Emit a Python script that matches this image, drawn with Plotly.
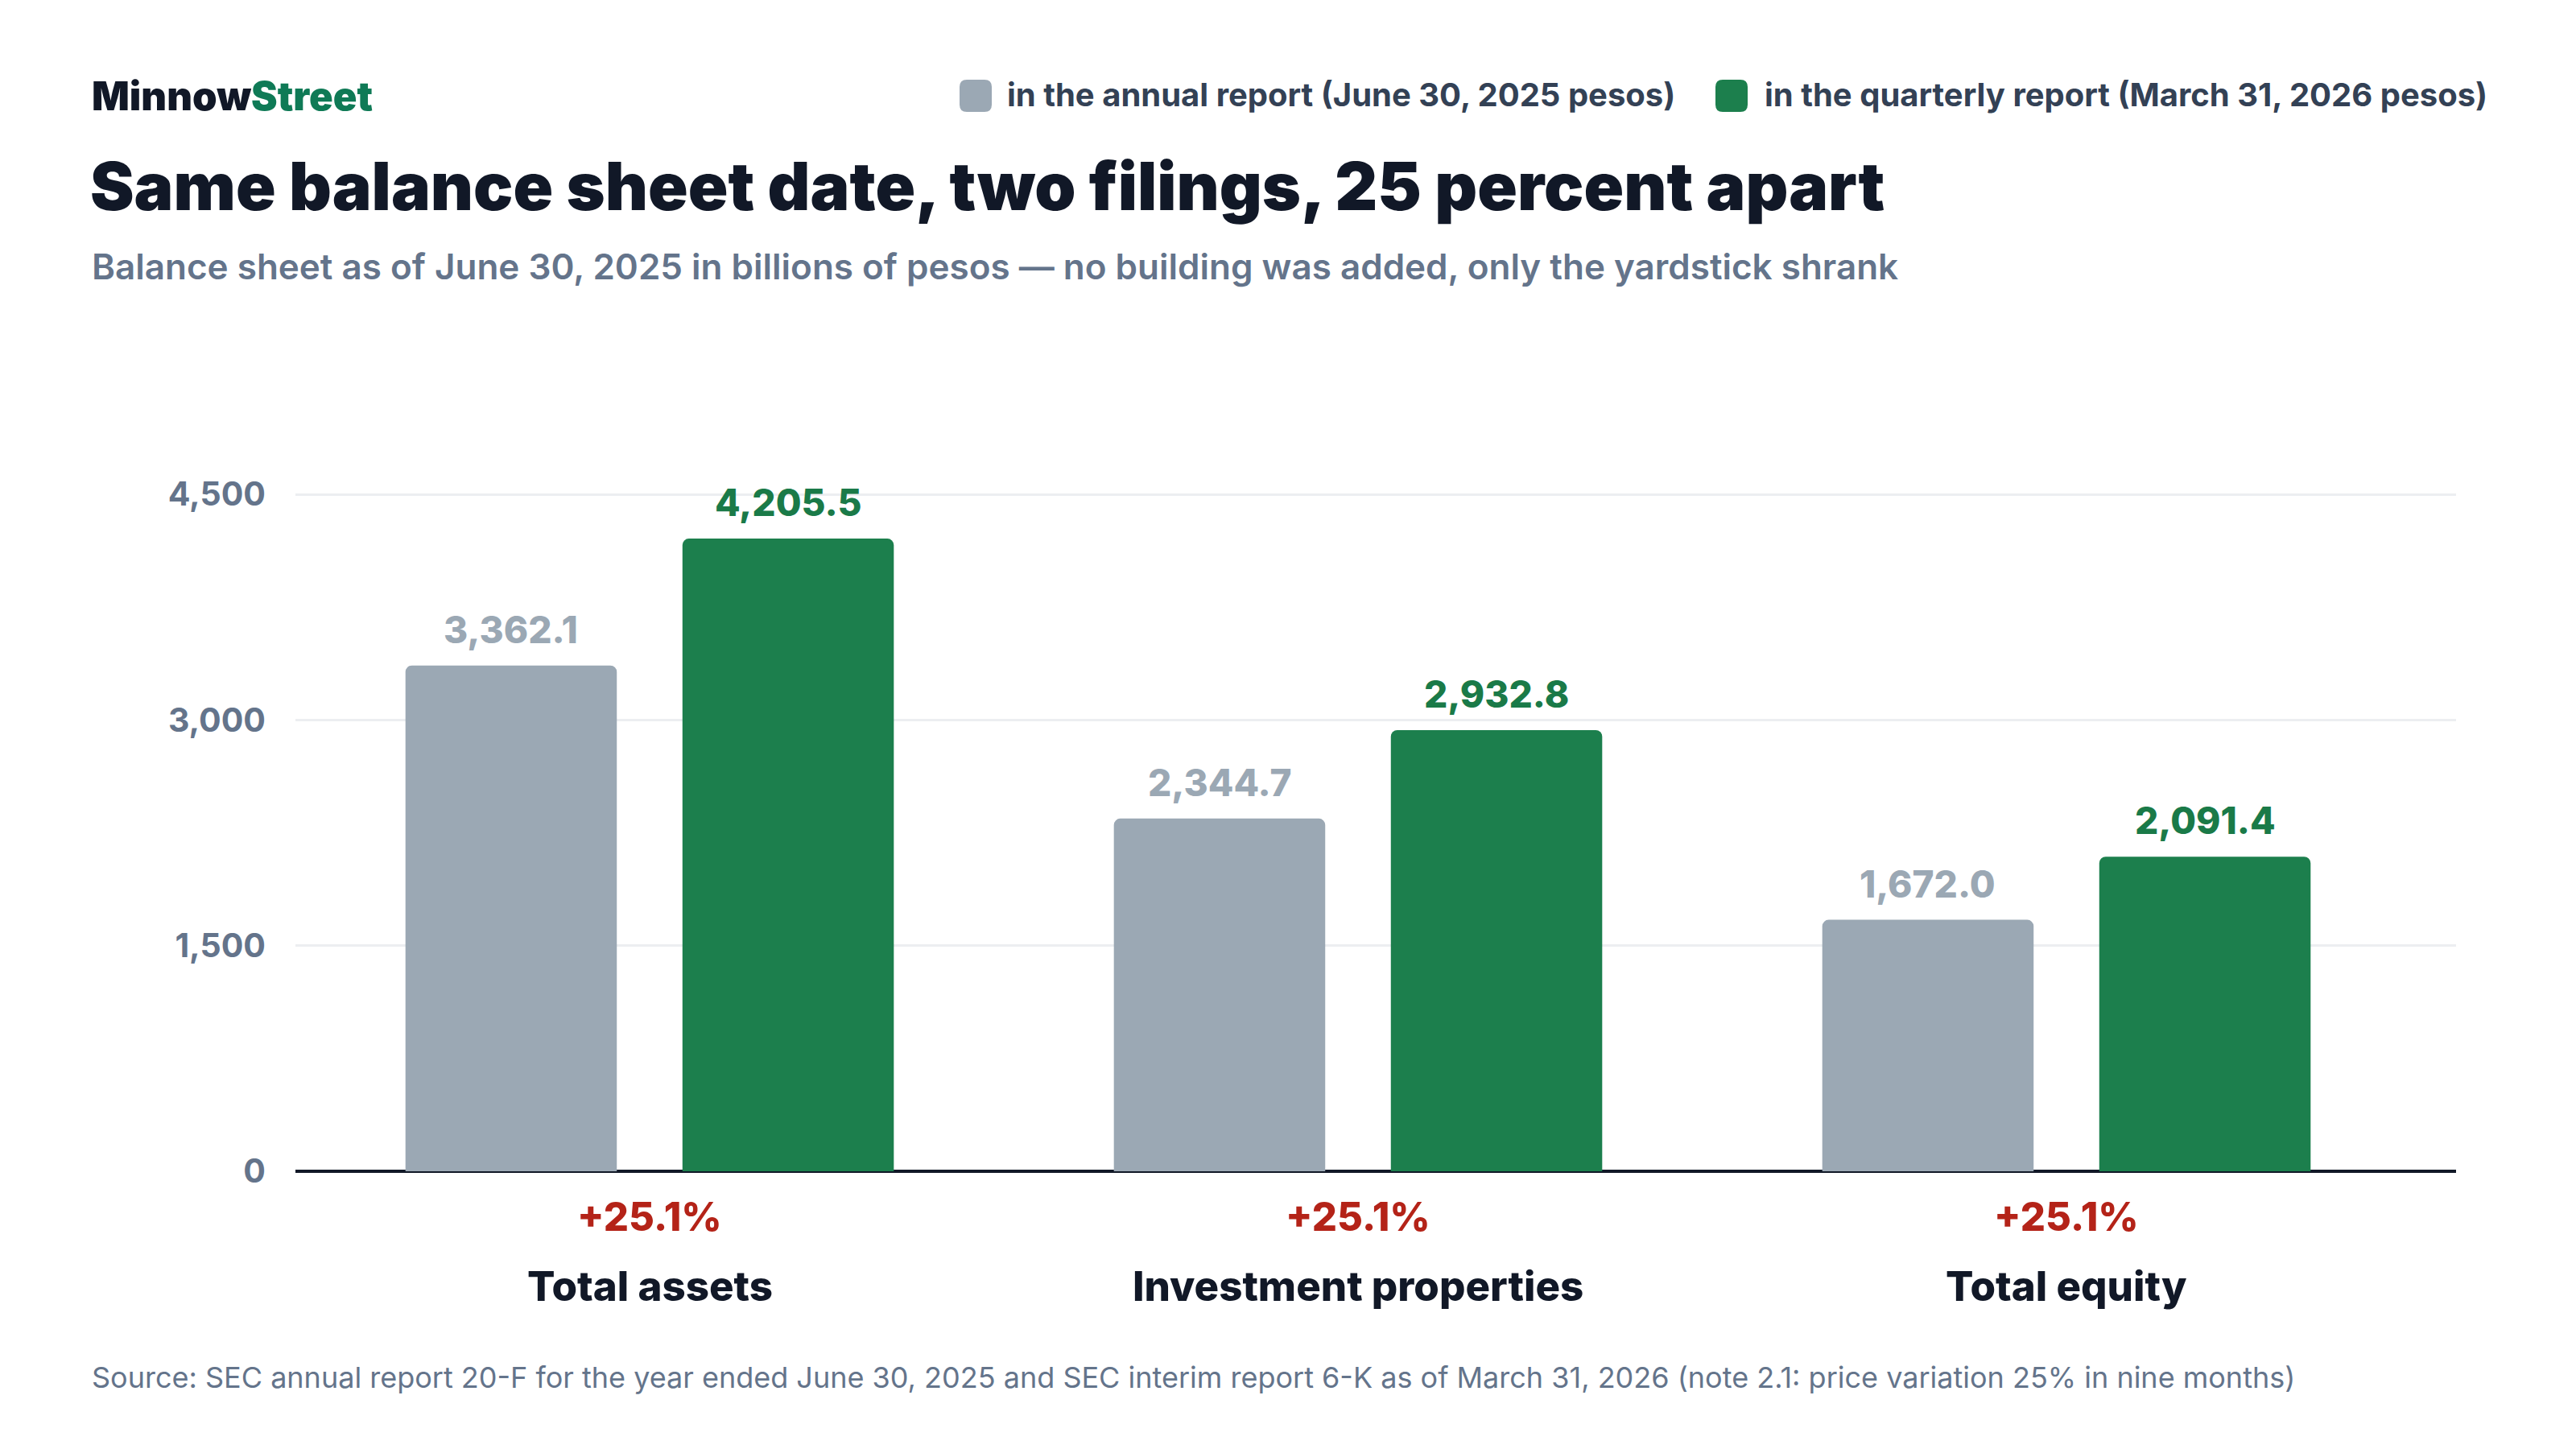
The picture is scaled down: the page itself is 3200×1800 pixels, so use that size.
import plotly.graph_objects as go

# ---------------- data ----------------
categories = ["Total assets", "Investment properties", "Total equity"]
annual_values = [3362.1, 2344.7, 1672.0]
quarterly_values = [4205.5, 2932.8, 2091.4]
series_names = ["in the annual report (June 30, 2025 pesos)",
                "in the quarterly report (March 31, 2026 pesos)"]
y_tick_values = [0, 1500, 3000, 4500]
y_tick_labels = ["0", "1,500", "3,000", "4,500"]

title_text = "Same balance sheet date, two filings, 25 percent apart"
subtitle_text = ("Balance sheet as of June 30, 2025 in billions of pesos \u2014 "
                 "no building was added, only the yardstick shrank")
source_text = ("Source: SEC annual report 20-F for the year ended June 30, 2025 and "
               "SEC interim report 6-K as of March 31, 2026 (note 2.1: price variation 25% in nine months)")

# ---------------- style ----------------
OFF = 8  # page body margin
W, H = 3200 - 2 * OFF, 1800 - 2 * OFF
L = 367 - OFF
R = W - (3051 - OFF)
T = 558 - OFF
B = H - (1455 - OFF)
PW, PH = W - L - R, H - T - B
X_RANGE = [-0.5, 2.55]
Y_RANGE = [0, 4800]
BARGAP = 0.218
GROUPGAP = 0.237

GRAY = "#9ba8b4"
GREEN = "#1c7f4d"
GRAY_TXT = "#9ba8b4"
GREEN_TXT = "#1a7a48"
RED = "#b42318"
DARK = "#111827"
MUTED = "#64748b"
TICK = "#64748b"
LEG_TXT = "#334155"
FONT = "Inter"


def px_x(xp):
    # xp: target pixel in the browser window
    return (xp - OFF - L) / PW


def px_y(yp):
    return (H - B - (yp - OFF)) / PH


fig = go.Figure()
fig.add_trace(go.Bar(x=categories, y=annual_values, name=series_names[0],
                     marker=dict(color=GRAY, line=dict(width=0)), showlegend=False,
                     hoverinfo="skip"))
fig.add_trace(go.Bar(x=categories, y=quarterly_values, name=series_names[1],
                     marker=dict(color=GREEN, line=dict(width=0)), showlegend=False,
                     hoverinfo="skip"))

annotations = []
slot_px = PW / (X_RANGE[1] - X_RANGE[0]) * (1 - BARGAP) / 2
for cat, a, q in zip(categories, annual_values, quarterly_values):
    annotations.append(dict(x=cat, y=a, xref="x", yref="y", text=f"{a:,.1f}",
                            showarrow=False, xshift=-slot_px / 2, yshift=45,
                            yanchor="middle",
                            font=dict(family=FONT, size=46, color=GRAY_TXT, weight=800)))
    annotations.append(dict(x=cat, y=q, xref="x", yref="y", text=f"{q:,.1f}",
                            showarrow=False, xshift=slot_px / 2, yshift=45,
                            yanchor="middle",
                            font=dict(family=FONT, size=46, color=GREEN_TXT, weight=800)))
    pct = (q / a - 1) * 100
    annotations.append(dict(x=cat, y=px_y(1511), xref="x", yref="paper",
                            text=f"+{pct:.1f}%", showarrow=False, yanchor="middle",
                            font=dict(family=FONT, size=49, color=RED, weight=800)))
    annotations.append(dict(x=cat, y=px_y(1597), xref="x", yref="paper",
                            text=cat, showarrow=False, yanchor="middle",
                            font=dict(family=FONT, size=51, color=DARK, weight=800)))

# logo
annotations.append(dict(x=px_x(112), y=px_y(119), xref="paper", yref="paper",
                        xanchor="left", yanchor="middle", showarrow=False,
                        text=f"<span style='color:{DARK}'>Minnow</span><span style='color:#0f7a56'>Street</span>",
                        font=dict(family=FONT, size=49, weight=900)))
# title
annotations.append(dict(x=px_x(110), y=px_y(231), xref="paper", yref="paper",
                        xanchor="left", yanchor="middle", showarrow=False,
                        text=title_text,
                        font=dict(family=FONT, size=82, color=DARK, weight=900)))
# subtitle
annotations.append(dict(x=px_x(112), y=px_y(331), xref="paper", yref="paper",
                        xanchor="left", yanchor="middle", showarrow=False,
                        text=subtitle_text,
                        font=dict(family=FONT, size=44, color=MUTED, weight=600)))
# source
annotations.append(dict(x=px_x(112), y=px_y(1711), xref="paper", yref="paper",
                        xanchor="left", yanchor="middle", showarrow=False,
                        text=source_text,
                        font=dict(family=FONT, size=36, color=MUTED, weight=400)))

# legend (custom)
shapes = []
legend_items = [(series_names[0], GRAY, 1192, 1249), (series_names[1], GREEN, 2131, 2190)]
r = 9
s = 40
path = (f"M {r},0 L {s - r},0 Q {s},0 {s},{r} L {s},{s - r} Q {s},{s} {s - r},{s} "
        f"L {r},{s} Q 0,{s} 0,{s - r} L 0,{r} Q 0,0 {r},0 Z")
for name, col, sx, tx in legend_items:
    shapes.append(dict(type="path", xref="paper", yref="paper",
                       xsizemode="pixel", ysizemode="pixel",
                       xanchor=px_x(sx), yanchor=px_y(139),
                       path=path, fillcolor=col, line=dict(width=0), layer="above"))
    annotations.append(dict(x=px_x(tx), y=px_y(117), xref="paper", yref="paper",
                            xanchor="left", yanchor="middle", showarrow=False,
                            text=name,
                            font=dict(family=FONT, size=40, color=LEG_TXT, weight=700)))

fig.update_layout(
    width=W, height=H,
    margin=dict(l=L, r=R, t=T, b=B, pad=0),
    paper_bgcolor="white", plot_bgcolor="white",
    barmode="group", bargap=BARGAP, bargroupgap=GROUPGAP,
    barcornerradius=8,
    font=dict(family=FONT),
    xaxis=dict(range=X_RANGE, showticklabels=False, showgrid=False, zeroline=False,
               showline=False, ticks=""),
    yaxis=dict(range=Y_RANGE, tickvals=y_tick_values, ticktext=y_tick_labels,
               showgrid=True, gridcolor="#eceef1", gridwidth=3,
               zeroline=True, zerolinecolor=DARK, zerolinewidth=4,
               showline=False, ticks="", ticklabelstandoff=36,
               tickfont=dict(family=FONT, size=41, color=TICK, weight=700)),
    annotations=annotations,
    shapes=shapes,
    showlegend=False,
)

fig.write_html("out.html")
